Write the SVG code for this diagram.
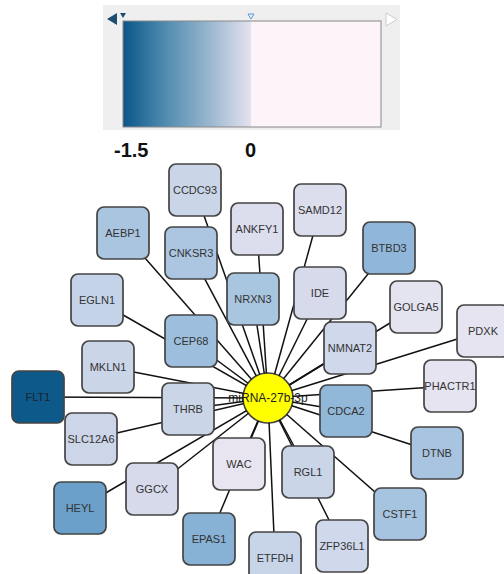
<svg xmlns="http://www.w3.org/2000/svg" xmlns:xlink="http://www.w3.org/1999/xlink" width="504" height="574" viewBox="0 0 504 574">
<style>
.node rect{stroke:#444;stroke-width:1.7}
.node text{font-family:"Liberation Sans",Arial,sans-serif;font-size:11px;fill:#333;text-anchor:middle;dominant-baseline:central}
#edges line{stroke:#111;stroke-width:1.5}
.lbl{font-family:"Liberation Sans",Arial,sans-serif;font-weight:bold;font-size:20px;fill:#111}
</style>
<defs>
<linearGradient id="grad" x1="123" y1="0" x2="251" y2="0" gradientUnits="userSpaceOnUse">
<stop offset="0" stop-color="#0a5689"/>
<stop offset="0.3" stop-color="#4a87ad"/>
<stop offset="0.65" stop-color="#94b3cd"/>
<stop offset="1" stop-color="#e4e2ef"/>
</linearGradient>
<mask id="outside" maskUnits="userSpaceOnUse" x="0" y="0" width="504" height="574">
<rect x="0" y="0" width="504" height="574" fill="#fff"/>
<circle cx="268" cy="398" r="25" fill="#000"/>
</mask>
</defs>
<rect width="504" height="574" fill="#fff"/>
<g id="legend">
<rect x="103" y="5" width="297" height="125" fill="#efefef"/>
<rect x="123" y="21" width="128" height="106" fill="url(#grad)"/>
<rect x="251" y="21" width="130" height="106" fill="#fdf4f9"/>
<rect x="123" y="21" width="258" height="106" fill="none" stroke="#888" stroke-width="1"/>
<polygon points="107,19 117,13 117,25" fill="#1d4e72"/>
<polygon points="120,13 126,13 123,18" fill="#1d4e72"/>
<polygon points="248,14 254,14 251,19" fill="none" stroke="#5a9bd5" stroke-width="1"/>
<polygon points="386,13 397,19.5 386,26" fill="#fff" stroke="#ccc" stroke-width="1"/>
<text class="lbl" x="114" y="157">-1.5</text>
<text class="lbl" x="245" y="157">0</text>
</g>
<g id="hub">
<circle cx="268" cy="398" r="25" fill="#ffff00" stroke="#444" stroke-width="1.6"/>
<text x="268" y="398" font-family="Liberation Sans, Arial, sans-serif" font-size="12" fill="#222" text-anchor="middle" dominant-baseline="central">miRNA-27b-3p</text>
</g>
<g id="edges" mask="url(#outside)">
<line x1="268" y1="398" x2="195" y2="190"/>
<line x1="268" y1="398" x2="123" y2="233"/>
<line x1="268" y1="398" x2="191" y2="253"/>
<line x1="268" y1="398" x2="97" y2="300"/>
<line x1="268" y1="398" x2="191" y2="341"/>
<line x1="268" y1="398" x2="257" y2="229"/>
<line x1="268" y1="398" x2="253" y2="299"/>
<line x1="268" y1="398" x2="320" y2="210"/>
<line x1="268" y1="398" x2="389" y2="248"/>
<line x1="268" y1="398" x2="320" y2="293"/>
<line x1="268" y1="398" x2="416" y2="307"/>
<line x1="268" y1="398" x2="350" y2="348"/>
<line x1="268" y1="398" x2="483" y2="331"/>
<line x1="268" y1="398" x2="450" y2="386"/>
<line x1="268" y1="398" x2="108" y2="367"/>
<line x1="268" y1="398" x2="38" y2="397"/>
<line x1="268" y1="398" x2="188" y2="409"/>
<line x1="268" y1="398" x2="91" y2="439"/>
<line x1="268" y1="398" x2="152" y2="489"/>
<line x1="268" y1="398" x2="80" y2="508"/>
<line x1="268" y1="398" x2="239" y2="464"/>
<line x1="268" y1="398" x2="209" y2="539"/>
<line x1="268" y1="398" x2="346" y2="411"/>
<line x1="268" y1="398" x2="437" y2="453"/>
<line x1="268" y1="398" x2="308" y2="472"/>
<line x1="268" y1="398" x2="400" y2="514"/>
<line x1="268" y1="398" x2="342" y2="546"/>
<line x1="268" y1="398" x2="275" y2="558"/>
</g>
<g id="CCDC93" class="node"><rect x="169" y="164" width="52" height="52" rx="7" fill="#cbd5e8"/><text x="195" y="190">CCDC93</text></g>
<g id="AEBP1" class="node"><rect x="97" y="207" width="52" height="52" rx="7" fill="#aac5e0"/><text x="123" y="233">AEBP1</text></g>
<g id="CNKSR3" class="node"><rect x="165" y="227" width="52" height="52" rx="7" fill="#acc6e1"/><text x="191" y="253">CNKSR3</text></g>
<g id="EGLN1" class="node"><rect x="71" y="274" width="52" height="52" rx="7" fill="#c4d3e8"/><text x="97" y="300">EGLN1</text></g>
<g id="CEP68" class="node"><rect x="165" y="315" width="52" height="52" rx="7" fill="#9dbfdd"/><text x="191" y="341">CEP68</text></g>
<g id="ANKFY1" class="node"><rect x="231" y="203" width="52" height="52" rx="7" fill="#dcdded"/><text x="257" y="229">ANKFY1</text></g>
<g id="NRXN3" class="node"><rect x="227" y="273" width="52" height="52" rx="7" fill="#a9c6e1"/><text x="253" y="299">NRXN3</text></g>
<g id="SAMD12" class="node"><rect x="294" y="184" width="52" height="52" rx="7" fill="#dcdded"/><text x="320" y="210">SAMD12</text></g>
<g id="BTBD3" class="node"><rect x="363" y="222" width="52" height="52" rx="7" fill="#90b7d9"/><text x="389" y="248">BTBD3</text></g>
<g id="IDE" class="node"><rect x="294" y="267" width="52" height="52" rx="7" fill="#d6daeb"/><text x="320" y="293">IDE</text></g>
<g id="GOLGA5" class="node"><rect x="390" y="281" width="52" height="52" rx="7" fill="#e4e3f0"/><text x="416" y="307">GOLGA5</text></g>
<g id="NMNAT2" class="node"><rect x="324" y="322" width="52" height="52" rx="7" fill="#d0d8eb"/><text x="350" y="348">NMNAT2</text></g>
<g id="PDXK" class="node"><rect x="457" y="305" width="52" height="52" rx="7" fill="#e6e4f0"/><text x="483" y="331">PDXK</text></g>
<g id="PHACTR1" class="node"><rect x="424" y="360" width="52" height="52" rx="7" fill="#e6e4f0"/><text x="450" y="386">PHACTR1</text></g>
<g id="MKLN1" class="node"><rect x="82" y="341" width="52" height="52" rx="7" fill="#cbd5e8"/><text x="108" y="367">MKLN1</text></g>
<g id="FLT1" class="node"><rect x="12" y="371" width="52" height="52" rx="7" fill="#0d5a8a"/><text x="38" y="397" style="fill:#1a2230">FLT1</text></g>
<g id="THRB" class="node"><rect x="162" y="383" width="52" height="52" rx="7" fill="#cbd5e8"/><text x="188" y="409">THRB</text></g>
<g id="SLC12A6" class="node"><rect x="65" y="413" width="52" height="52" rx="7" fill="#cdd6e9"/><text x="91" y="439">SLC12A6</text></g>
<g id="GGCX" class="node"><rect x="126" y="463" width="52" height="52" rx="7" fill="#d6daeb"/><text x="152" y="489">GGCX</text></g>
<g id="HEYL" class="node"><rect x="54" y="482" width="52" height="52" rx="7" fill="#6aa0c9"/><text x="80" y="508">HEYL</text></g>
<g id="WAC" class="node"><rect x="213" y="438" width="52" height="52" rx="7" fill="#e8e5f1"/><text x="239" y="464">WAC</text></g>
<g id="EPAS1" class="node"><rect x="183" y="513" width="52" height="52" rx="7" fill="#87b1d5"/><text x="209" y="539">EPAS1</text></g>
<g id="CDCA2" class="node"><rect x="320" y="385" width="52" height="52" rx="7" fill="#92b8d9"/><text x="346" y="411">CDCA2</text></g>
<g id="DTNB" class="node"><rect x="411" y="427" width="52" height="52" rx="7" fill="#a8c4e0"/><text x="437" y="453">DTNB</text></g>
<g id="RGL1" class="node"><rect x="282" y="446" width="52" height="52" rx="7" fill="#cad5e8"/><text x="308" y="472">RGL1</text></g>
<g id="CSTF1" class="node"><rect x="374" y="488" width="52" height="52" rx="7" fill="#a6c3df"/><text x="400" y="514">CSTF1</text></g>
<g id="ZFP36L1" class="node"><rect x="316" y="520" width="52" height="52" rx="7" fill="#d0d8eb"/><text x="342" y="546">ZFP36L1</text></g>
<g id="ETFDH" class="node"><rect x="249" y="532" width="52" height="52" rx="7" fill="#c8d4e8"/><text x="275" y="558">ETFDH</text></g>
</svg>
